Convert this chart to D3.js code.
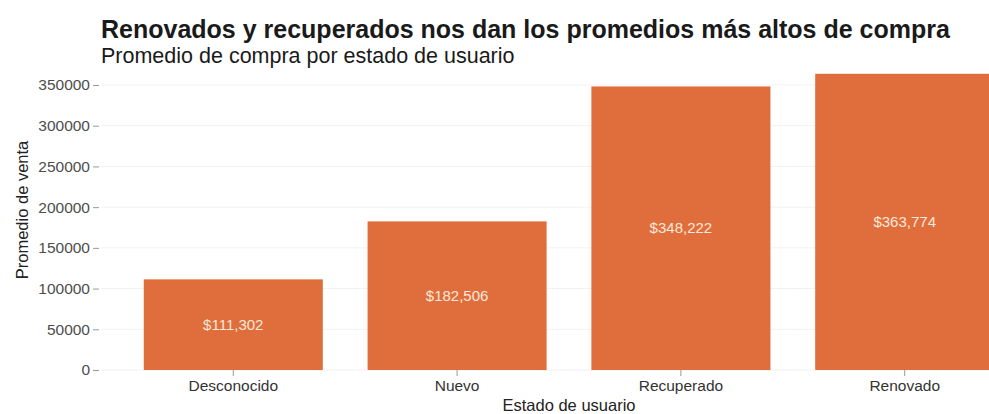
<!DOCTYPE html>
<html>
<head>
<meta charset="utf-8">
<script src="https://cdn.jsdelivr.net/npm/d3@7"></script>
<style>
  html, body { margin: 0; padding: 0; background: #ffffff; }
  svg { display: block; font-family: "Liberation Sans", Arial, Helvetica, sans-serif; }
</style>
</head>
<body>
<svg id="chart" width="989" height="414"></svg>
<script>
// Average purchase by user status
const categories = ["Desconocido", "Nuevo", "Recuperado", "Renovado"];
const promedios = [111302, 182506, 348222, 363774];
const yTicks = [0, 50000, 100000, 150000, 200000, 250000, 300000, 350000];

const titleText = "Renovados y recuperados nos dan los promedios más altos de compra";
const subtitleText = "Promedio de compra por estado de usuario";
const xTitle = "Estado de usuario";
const yTitle = "Promedio de venta";

const barColor = "#e06e3c";
const W = 989, H = 414;

const svg = d3.select("#chart");

// Panel extends past the right edge of the canvas; the last bar is clipped there.
const panel = { left: 99, right: 1039, top: 60, bottom: 370 };

const x = d3.scaleBand()
  .domain(categories)
  .range([panel.left, panel.right])
  .paddingInner(0.2)
  .paddingOuter(0.2);

const y = d3.scaleLinear()
  .domain([0, 350000])
  .range([panel.bottom, 85]);

const fmt = v => "$" + d3.format(",")(v);

// horizontal grid
svg.append("g")
  .selectAll("line")
  .data(yTicks)
  .join("line")
  .attr("x1", panel.left + 2)
  .attr("x2", W)
  .attr("y1", d => y(d))
  .attr("y2", d => y(d))
  .attr("stroke", "#f2f2f2")
  .attr("stroke-width", 1);

// bars
svg.append("g")
  .selectAll("rect")
  .data(categories)
  .join("rect")
  .attr("x", d => x(d))
  .attr("width", x.bandwidth())
  .attr("y", (d, i) => y(promedios[i]))
  .attr("height", (d, i) => y(0) - y(promedios[i]))
  .attr("fill", barColor);

// value labels at mid-height
svg.append("g")
  .selectAll("text")
  .data(categories)
  .join("text")
  .attr("x", d => x(d) + x.bandwidth() / 2)
  .attr("y", (d, i) => y(promedios[i] / 2))
  .attr("dy", "0.35em")
  .attr("text-anchor", "middle")
  .attr("fill", "#fbe8da")
  .attr("font-size", 15)
  .text((d, i) => fmt(promedios[i]));

// y axis
const yAxis = d3.axisLeft(y)
  .tickValues(yTicks)
  .tickFormat(d3.format("d"))
  .tickSize(6)
  .tickPadding(3);
const gy = svg.append("g")
  .attr("transform", `translate(${panel.left},0)`)
  .call(yAxis);
gy.select(".domain").remove();
gy.selectAll(".tick line").attr("stroke", "#9a9a9a");
gy.selectAll(".tick text")
  .attr("fill", "#4d4d4d")
  .attr("font-size", 15.5)
  .attr("font-family", "Liberation Sans, Arial, sans-serif");

// x axis
const xAxis = d3.axisBottom(x)
  .tickSize(6)
  .tickPadding(4);
const gx = svg.append("g")
  .attr("transform", `translate(0,${panel.bottom})`)
  .call(xAxis);
gx.select(".domain").remove();
gx.selectAll(".tick line").attr("stroke", "#9a9a9a");
gx.selectAll(".tick text")
  .attr("fill", "#333333")
  .attr("font-size", 15.5)
  .attr("font-family", "Liberation Sans, Arial, sans-serif");

// axis titles
svg.append("text")
  .attr("x", (panel.left + panel.right) / 2)
  .attr("y", 411)
  .attr("text-anchor", "middle")
  .attr("fill", "#222")
  .attr("font-size", 16.5)
  .text(xTitle);

svg.append("text")
  .attr("transform", "translate(28,210) rotate(-90)")
  .attr("text-anchor", "middle")
  .attr("fill", "#222")
  .attr("font-size", 16.5)
  .text(yTitle);

// title and subtitle
svg.append("text")
  .attr("x", panel.left + 2)
  .attr("y", 37.5)
  .attr("fill", "#1a1a1a")
  .attr("font-size", 25)
  .attr("font-weight", "bold")
  .text(titleText);

svg.append("text")
  .attr("x", panel.left + 2)
  .attr("y", 63)
  .attr("fill", "#1a1a1a")
  .attr("font-size", 21.5)
  .text(subtitleText);
</script>
</body>
</html>
